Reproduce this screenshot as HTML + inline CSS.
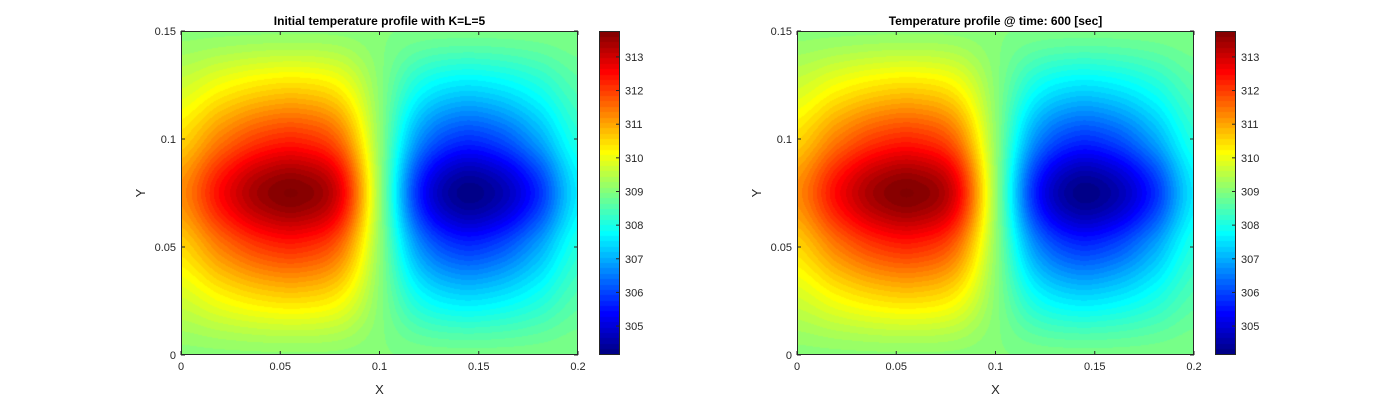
<!DOCTYPE html>
<html><head><meta charset="utf-8"><style>
body{margin:0;background:#fff;width:1400px;height:400px;overflow:hidden;position:relative;font-family:"Liberation Sans",Arial,sans-serif}
canvas{position:absolute}
svg{position:absolute;left:0;top:0}
</style></head><body>
<canvas id="c1" style="left:181px;top:31px" width="397" height="324"></canvas>
<canvas id="c2" style="left:797px;top:31px" width="397" height="324"></canvas>
<canvas id="cb1" style="left:599px;top:31px" width="21" height="324"></canvas>
<canvas id="cb2" style="left:1215px;top:31px" width="21" height="324"></canvas>
<svg id="ov" width="1400" height="400"></svg>
<script>
const xGrid=[0,0.02,0.04,0.06,0.08,0.10,0.12,0.14,0.16,0.18,0.20];
const yGrid=[0,0.025,0.05,0.075,0.10,0.125,0.15];
const tempRows=[
[309.05,309.07,309.09,309.10,309.08,309.00,308.93,308.91,308.91,308.93,308.97],
[309.72,310.12,310.40,310.48,310.18,309.07,307.95,307.55,307.65,308.02,308.57],
[310.55,311.42,312.05,312.20,311.55,309.16,306.75,305.85,306.05,306.90,308.07],
[311.28,312.56,313.51,313.75,312.80,309.24,305.67,304.30,304.55,305.72,307.57],
[310.55,311.42,312.05,312.20,311.55,309.16,306.75,305.85,306.05,306.90,308.07],
[309.72,310.12,310.40,310.48,310.18,309.07,307.95,307.55,307.65,308.02,308.57],
[309.05,309.07,309.09,309.10,309.08,309.00,308.93,308.91,308.91,308.93,308.97]];
const xTicks=[0,0.05,0.1,0.15,0.2];
const xTickLabels=["0","0.05","0.1","0.15","0.2"];
const yTicks=[0,0.05,0.1,0.15];
const yTickLabels=["0","0.05","0.1","0.15"];
const cbTicks=[305,306,307,308,309,310,311,312,313];
const titles=["Initial temperature profile with K=L=5","Temperature profile @ time: 600 [sec]"];
const cmin=304.17,cmax=313.77,nLev=60;
function jet(t){t=Math.max(0,Math.min(1,t));
 const r=Math.max(0,Math.min(1,1.5-Math.abs(4*t-3))),g=Math.max(0,Math.min(1,1.5-Math.abs(4*t-2))),b=Math.max(0,Math.min(1,1.5-Math.abs(4*t-1)));
 return [r*255,g*255,b*255];}
function q(v){const t=(v-cmin)/(cmax-cmin);return (Math.floor(t*nLev)+0.5)/nLev;}
function cr(p0,p1,p2,p3,t){return 0.5*((2*p1)+(-p0+p2)*t+(2*p0-5*p1+4*p2-p3)*t*t+(-p0+3*p1-3*p2+p3)*t*t*t);}
function G(j,i){j=Math.max(0,Math.min(yGrid.length-1,j));i=Math.max(0,Math.min(xGrid.length-1,i));return tempRows[j][i];}
function field(x,y){
 let i=0;while(i<xGrid.length-2&&x>xGrid[i+1])i++;
 let j=0;while(j<yGrid.length-2&&y>yGrid[j+1])j++;
 const fx=(x-xGrid[i])/(xGrid[i+1]-xGrid[i]),fy=(y-yGrid[j])/(yGrid[j+1]-yGrid[j]);
 const r=[];for(let k=-1;k<=2;k++)r.push(cr(G(j+k,i-1),G(j+k,i),G(j+k,i+1),G(j+k,i+2),fx));
 return cr(r[0],r[1],r[2],r[3],fy);}
function drawPlot(id){const cv=document.getElementById(id),ctx=cv.getContext('2d');
 const W=cv.width,H=cv.height,img=ctx.createImageData(W,H);
 for(let py=0;py<H;py++)for(let px=0;px<W;px++){
  const x=px/(W-1)*0.2,y=(1-py/(H-1))*0.15;const col=jet(q(field(x,y)));const k=(py*W+px)*4;
  img.data[k]=col[0];img.data[k+1]=col[1];img.data[k+2]=col[2];img.data[k+3]=255;}
 ctx.putImageData(img,0,0);}
function drawCb(id){const cv=document.getElementById(id),ctx=cv.getContext('2d');
 for(let py=0;py<cv.height;py++){const v=cmax-(py/(cv.height-1))*(cmax-cmin);const c=jet(q(v));
  ctx.fillStyle=`rgb(${c[0]|0},${c[1]|0},${c[2]|0})`;ctx.fillRect(0,py,cv.width,1);}}
drawPlot('c1');drawPlot('c2');drawCb('cb1');drawCb('cb2');
const ov=document.getElementById('ov'),NS='http://www.w3.org/2000/svg';
function el(tag,at,txt){const e=document.createElementNS(NS,tag);for(const k in at)e.setAttribute(k,at[k]);if(txt!==undefined)e.textContent=txt;ov.appendChild(e);return e;}
[181,797].forEach((L,p)=>{
 const T=31,W=397,H=324,B=T+H;
 const sx=v=>L+v/0.2*W, sy=v=>B-v/0.15*H;
 const box=el('rect',{x:L+0.5,y:T+0.5,width:W-1,height:H-1,fill:'none',stroke:'#262626','stroke-width':1});
 
 xTicks.forEach((v,i)=>{const x=sx(v);
  el('line',{x1:x,y1:B,x2:x,y2:B-4,stroke:'#262626'});el('line',{x1:x,y1:T,x2:x,y2:T+4,stroke:'#262626'});
  const t=el('text',{x:x,y:B+15,'font-size':11,'text-anchor':'middle',fill:'#262626'},xTickLabels[i]);
  });
 yTicks.forEach((v,i)=>{const y=sy(v);
  el('line',{x1:L,y1:y,x2:L+4,y2:y,stroke:'#262626'});el('line',{x1:L+W,y1:y,x2:L+W-4,y2:y,stroke:'#262626'});
  const t=el('text',{x:L-5,y:y+4,'font-size':11,'text-anchor':'end',fill:'#262626'},yTickLabels[i]);
  });
 const xl=el('text',{x:L+W/2,y:394,'font-size':13,'text-anchor':'middle',fill:'#262626'},'X');
 
 const yl=el('text',{x:0,y:0,'font-size':13,'text-anchor':'middle',fill:'#262626',transform:`translate(${L-36},${T+H/2}) rotate(-90)`},'Y');
 
 const tt=el('text',{x:L+W/2,y:25,'font-size':12,'font-weight':'bold','text-anchor':'middle',fill:'#000'},titles[p]);
 
 const CL=L+418,CW=21;
 el('rect',{x:CL+0.5,y:T+0.5,width:CW-1,height:H-1,fill:'none',stroke:'#262626'});
 cbTicks.forEach(v=>{const y=T+(cmax-v)/(cmax-cmin)*(H-1);
  el('line',{x1:CL+CW-4,y1:y,x2:CL+CW,y2:y,stroke:'#262626'});
  const t=el('text',{x:CL+CW+5,y:y+4,'font-size':11,fill:'#262626'},String(v));
  });
});
</script>
</body></html>
